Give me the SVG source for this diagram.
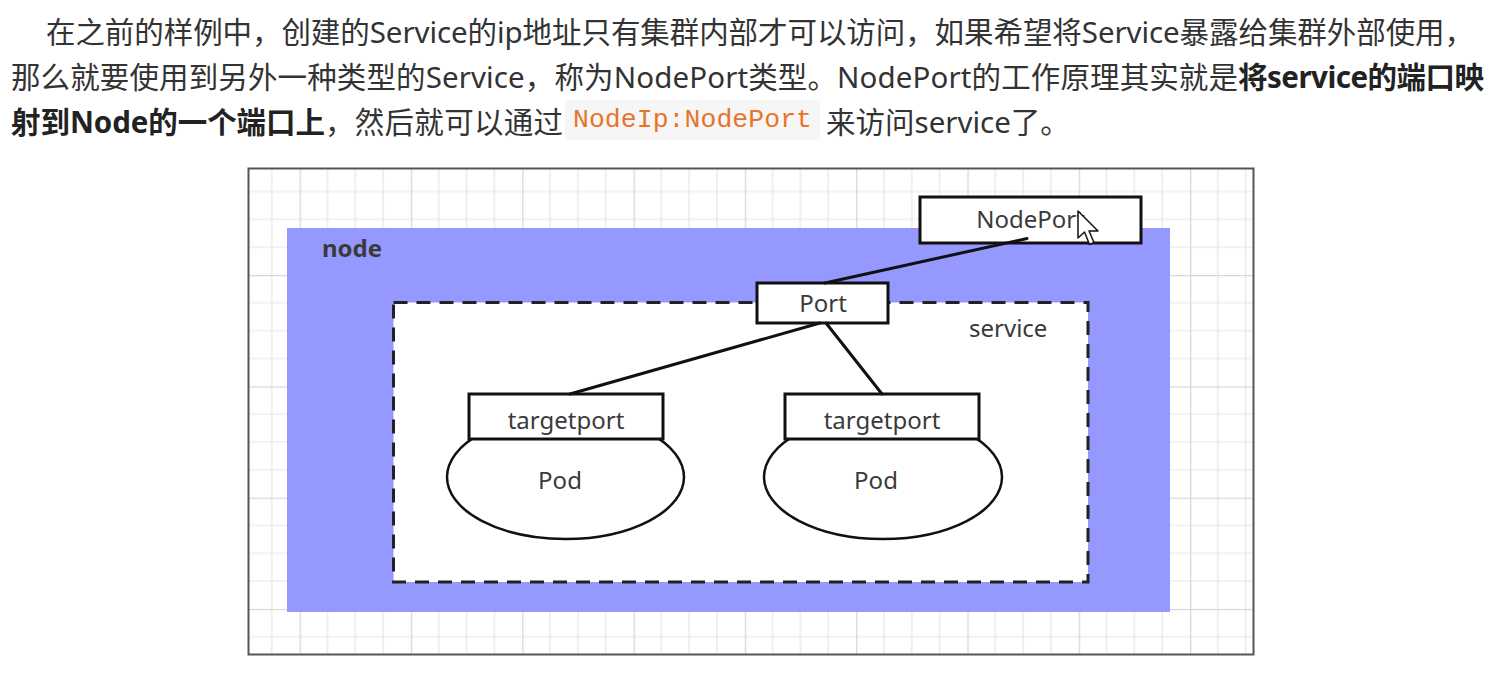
<svg xmlns="http://www.w3.org/2000/svg" width="1509" height="674" viewBox="0 0 1509 674">
  <style>
    .para { font-family: "Noto Sans", "Noto Sans CJK SC", sans-serif; font-size: 29.5px; fill: #333333; }
    .bold { font-weight: bold; fill: #222222; }
    .code { font-family: "Liberation Mono", monospace; font-size: 26.5px; fill: #e8742a; }
    .lbl { font-family: "Noto Sans", "Noto Sans CJK SC", sans-serif; font-size: 24px; fill: #3a3a3a; }
    .box { fill: #ffffff; stroke: #111111; stroke-width: 3; }
    .pod { fill: #ffffff; stroke: #111111; stroke-width: 2.5; }
    .conn { stroke: #111111; stroke-width: 3; fill: none; stroke-linecap: round; }
  </style>
  <defs>
    <pattern id="grid" x="188.3" y="163.7" width="111.3" height="111.3" patternUnits="userSpaceOnUse">
      <rect width="111.3" height="111.3" fill="#ffffff"/>
      <path d="M27.83 0V111.3M55.65 0V111.3M83.48 0V111.3M0 27.83H111.3M0 55.65H111.3M0 83.48H111.3" stroke="#e6e6e6" stroke-width="1.2"/>
      <path d="M0.6 0V111.3M0 0.6H111.3" stroke="#d8d8d8" stroke-width="1.4"/>
    </pattern>
  </defs>

  <rect width="1509" height="674" fill="#ffffff"/>

  <g id="paragraph">
    <text class="para" x="46" y="43" textLength="1428" lengthAdjust="spacing">在之前的样例中，创建的Service的ip地址只有集群内部才可以访问，如果希望将Service暴露给集群外部使用，</text>
    <text class="para" x="11" y="88" textLength="1227" lengthAdjust="spacing">那么就要使用到另外一种类型的Service，称为NodePort类型。NodePort的工作原理其实就是</text>
    <text class="para bold" x="1238" y="88" textLength="246" lengthAdjust="spacing">将service的端口映</text>
    <text class="para bold" x="11" y="133" textLength="314" lengthAdjust="spacing">射到Node的一个端口上</text>
    <text class="para" x="325" y="133" textLength="238" lengthAdjust="spacing">，然后就可以通过</text>
    <rect x="565" y="100" width="255" height="40" fill="#f6f6f6"/>
    <text class="code" x="573" y="127" textLength="239" lengthAdjust="spacing">NodeIp:NodePort</text>
    <text class="para" x="826" y="133">来访问service了。</text>
  </g>

  <g id="canvas">
    <rect x="248.5" y="168.5" width="1005" height="486" fill="url(#grid)" stroke="#50565e" stroke-width="2"/>
  </g>

  <g id="node">
    <rect x="287" y="228" width="883" height="384" fill="#9599ff"/>
    <text class="lbl bold" x="322" y="257">node</text>
  </g>

  <g id="service">
    <rect x="393.5" y="302.5" width="694.5" height="279.5" fill="#ffffff" stroke="#222222" stroke-width="3" stroke-dasharray="14 9"/>
    <text class="lbl" x="969" y="337">service</text>
  </g>

  <g id="pod1">
    <ellipse class="pod" cx="565.5" cy="477" rx="118.5" ry="62"/>
    <text class="lbl" x="560" y="489" text-anchor="middle">Pod</text>
  </g>
  <g id="targetport1">
    <rect class="box" x="469" y="394" width="194" height="45"/>
    <text class="lbl" x="566" y="429" text-anchor="middle">targetport</text>
  </g>

  <g id="pod2">
    <ellipse class="pod" cx="883" cy="477" rx="119" ry="62"/>
    <text class="lbl" x="876" y="489" text-anchor="middle">Pod</text>
  </g>
  <g id="targetport2">
    <rect class="box" x="785" y="394" width="194" height="45"/>
    <text class="lbl" x="882" y="429" text-anchor="middle">targetport</text>
  </g>

  <g id="port">
    <rect class="box" x="757" y="283" width="131" height="40"/>
    <text class="lbl" x="823" y="312" text-anchor="middle">Port</text>
  </g>

  <g id="nodeport">
    <rect class="box" x="920" y="197" width="221" height="46"/>
    <text class="lbl" x="1030.5" y="228" text-anchor="middle">NodePort</text>
  </g>

  <g id="connectors">
    <line class="conn" x1="825" y1="283" x2="1027" y2="238.5"/>
    <line class="conn" x1="820" y1="323" x2="570" y2="394"/>
    <line class="conn" x1="826" y1="323" x2="882" y2="394"/>
  </g>

  <g id="cursor">
    <path d="M1078 211 L1078 238 L1084.5 232 L1089.5 244.5 L1094 242.5 L1089 231 L1098 231 Z" fill="#ffffff" stroke="#111111" stroke-width="1.5" stroke-linejoin="round"/>
  </g>
</svg>
